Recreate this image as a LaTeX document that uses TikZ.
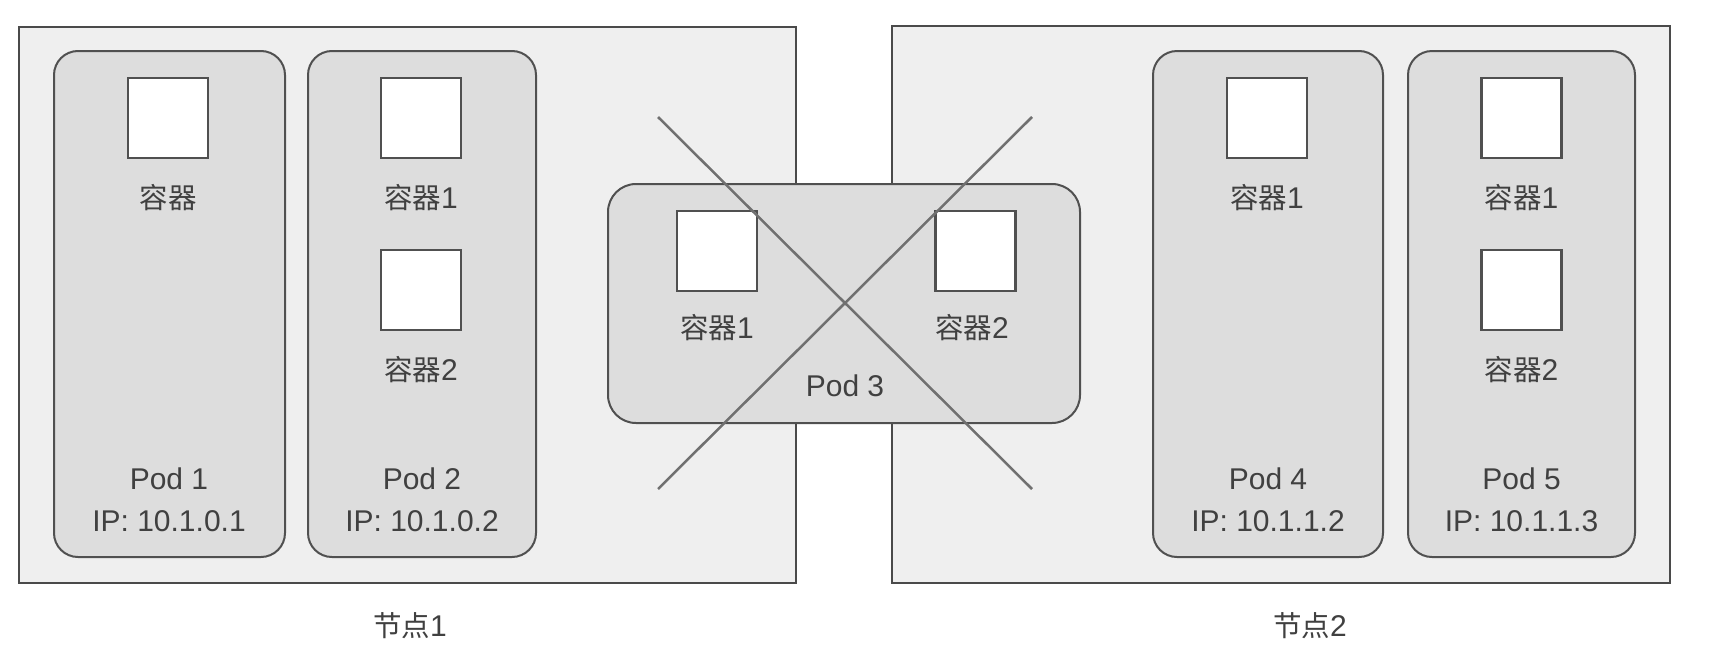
\documentclass[tikz,border=0pt]{standalone}
\usepackage{fontspec}
\setmainfont{Liberation Sans}
\newfontfamily\cjk{Noto Sans CJK SC}[Scale=0.95]
\definecolor{nodebg}{HTML}{EFEFEF}
\definecolor{nodeline}{HTML}{4A4A4A}
\definecolor{podbg}{HTML}{DDDDDD}
\definecolor{podline}{HTML}{505050}
\definecolor{crossline}{HTML}{707070}
\definecolor{textgray}{HTML}{404040}
\begin{document}
\begin{tikzpicture}[x=1pt,y=-1pt,
  nodebox/.style={draw=nodeline, fill=nodebg, line width=1.8pt, inner sep=0pt, outer sep=0pt, anchor=north west},
  podbox/.style={draw=podline, fill=podbg, line width=2pt, rounded corners=24pt, inner sep=0pt, outer sep=0pt, anchor=north west},
  ctrbox/.style={draw=podline, fill=white, line width=2.5pt, inner sep=0pt, outer sep=0pt, minimum width=80pt, minimum height=80pt},
  lbl/.style={text=textgray, font=\fontsize{30}{34}\selectfont, inner sep=0pt, anchor=base},
  xline/.style={draw=crossline, line width=2.5pt}]
\useasboundingbox (0,0) rectangle (1720,656);
\fill[white] (0,0) rectangle (1720,656);

% worker nodes
\node[nodebox, minimum width=777pt, minimum height=556pt] (n1) at (19,27) {};
\node[nodebox, minimum width=778pt, minimum height=557pt] (n2) at (892,26) {};

% Pod 1
\node[podbox, minimum width=231pt, minimum height=506pt] (p1) at (54,51) {};
\node[ctrbox] (p1c) at (168,118) {};
\node[lbl] (p1cl) at (168,208) {\cjk 容器};
\node[lbl] (p1n) at (169,489) {Pod 1};
\node[lbl] (p1ip) at (169,531) {IP: 10.1.0.1};

% Pod 2
\node[podbox, minimum width=228pt, minimum height=506pt] (p2) at (308,51) {};
\node[ctrbox] (p2c1) at (421,118) {};
\node[lbl] (p2c1l) at (421,208) {{\cjk 容器}1};
\node[ctrbox] (p2c2) at (421,290) {};
\node[lbl] (p2c2l) at (421,380) {{\cjk 容器}2};
\node[lbl] (p2n) at (422,489) {Pod 2};
\node[lbl] (p2ip) at (422,531) {IP: 10.1.0.2};

% Pod 4
\node[podbox, minimum width=230pt, minimum height=506pt] (p4) at (1153,51) {};
\node[ctrbox] (p4c) at (1267,118) {};
\node[lbl] (p4cl) at (1267,208) {{\cjk 容器}1};
\node[lbl] (p4n) at (1268,489) {Pod 4};
\node[lbl] (p4ip) at (1268,531) {IP: 10.1.1.2};

% Pod 5
\node[podbox, minimum width=227pt, minimum height=506pt] (p5) at (1408,51) {};
\node[ctrbox] (p5c1) at (1521.5,118) {};
\node[lbl] (p5c1l) at (1521.5,208) {{\cjk 容器}1};
\node[ctrbox] (p5c2) at (1521.5,290) {};
\node[lbl] (p5c2l) at (1521.5,380) {{\cjk 容器}2};
\node[lbl] (p5n) at (1521.5,489) {Pod 5};
\node[lbl] (p5ip) at (1521.5,531) {IP: 10.1.1.3};

% Pod 3 (being moved)
\node[podbox, rounded corners=28pt, minimum width=472pt, minimum height=239pt] (p3) at (608,184) {};
\node[ctrbox] (p3c1) at (717,251) {};
\node[lbl] (p3c1l) at (717,338) {{\cjk 容器}1};
\node[ctrbox] (p3c2) at (975.5,251) {};
\node[lbl] (p3c2l) at (972,338) {{\cjk 容器}2};
\node[lbl] (p3n) at (845,396) {Pod 3};

% cross
\coordinate (xa) at (658,117);
\coordinate (xb) at (1032,489);
\coordinate (xc) at (1032,117);
\coordinate (xd) at (658,489);
\draw[xline] (xa) -- (xb);
\draw[xline] (xc) -- (xd);

% node labels
\node[lbl] (n1l) at (410,636) {{\cjk 节点}1};
\node[lbl] (n2l) at (1310,636) {{\cjk 节点}2};
\end{tikzpicture}
\end{document}
